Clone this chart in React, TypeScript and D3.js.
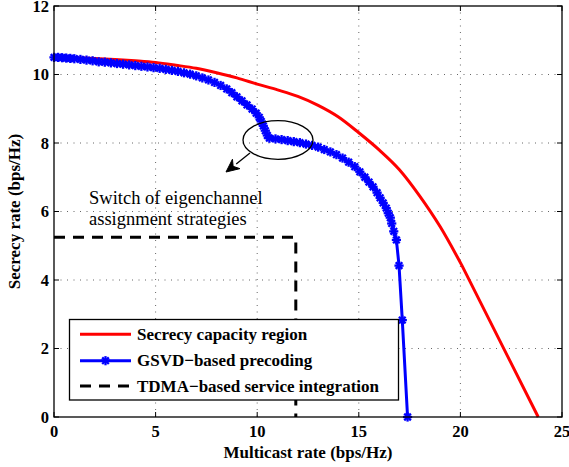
import React from "react";
import * as d3 from "d3";

const redX = [0, 1, 2, 3, 4, 5, 6, 7, 8, 9, 10, 11, 12, 13, 14, 15, 16, 17, 18, 19, 20.06, 23.83];
const redY = [10.5, 10.49, 10.47, 10.44, 10.4, 10.35, 10.27, 10.18, 10.05, 9.9, 9.72, 9.55, 9.36, 9.1, 8.76, 8.3, 7.8, 7.22, 6.45, 5.56, 4.44, 0];

const blueX = [0.0, 0.2, 0.4, 0.6, 0.8, 1.0, 1.3, 1.6, 1.9, 2.2, 2.5, 2.8, 3.1, 3.4, 3.7, 4.0, 4.3, 4.6, 4.9, 5.2, 5.5, 5.8, 6.1, 6.4, 6.7, 7.0, 7.3, 7.6, 7.9, 8.2, 8.5, 8.75, 9.0, 9.25, 9.5, 9.75, 9.95, 10.1, 10.2, 10.3, 10.4, 10.5, 10.6,
  10.9, 11.2, 11.5, 11.8, 12.1, 12.4, 12.7, 13.0, 13.3, 13.6, 13.9, 14.2, 14.5, 14.8, 15.05, 15.3, 15.5, 15.7, 15.9, 16.05, 16.2, 16.35, 16.45, 16.55, 16.62, 16.72, 16.85, 16.98, 17.14, 17.4];
const blueY = [10.5, 10.5, 10.49, 10.48, 10.47, 10.46, 10.44, 10.42, 10.4, 10.37, 10.36, 10.34, 10.32, 10.3, 10.28, 10.26, 10.24, 10.22, 10.2, 10.18, 10.15, 10.12, 10.09, 10.05, 10.01, 9.96, 9.9, 9.84, 9.77, 9.68, 9.58, 9.47, 9.35, 9.23, 9.11, 8.99, 8.87, 8.75, 8.63, 8.5, 8.36, 8.22, 8.14,
  8.12, 8.1, 8.07, 8.04, 8.01, 7.97, 7.93, 7.88, 7.81, 7.74, 7.66, 7.56, 7.44, 7.31, 7.16, 7.0, 6.86, 6.72, 6.55, 6.4, 6.25, 6.1, 5.95, 5.82, 5.65, 5.42, 5.17, 4.42, 2.83, 0];

const tdmaX = [0, 11.9, 11.9];
const tdmaY = [5.25, 5.25, 0];

const xTicks = [0, 5, 10, 15, 20, 25];
const yTicks = [0, 2, 4, 6, 8, 10, 12];

const legendLabels = ["Secrecy capacity region", "GSVD\u2212based precoding", "TDMA\u2212based service integration"];

const W = 569, H = 467;
const L = 54, R = 562, T = 6, B = 417;
const FONT = "Liberation Serif";

function Star({ x, y, s = 4.6, color = "#0000ff" }: { x: number; y: number; s?: number; color?: string }) {
  const d = s * 0.72;
  return (
    <g stroke={color} strokeWidth={2.3}>
      <line x1={x - s} y1={y} x2={x + s} y2={y} />
      <line x1={x} y1={y - s} x2={x} y2={y + s} />
      <line x1={x - d} y1={y - d} x2={x + d} y2={y + d} />
      <line x1={x - d} y1={y + d} x2={x + d} y2={y - d} />
    </g>
  );
}

export default function App() {
  const x = d3.scaleLinear().domain([0, 25]).range([L, R]);
  const y = d3.scaleLinear().domain([0, 12]).range([B, T]);

  const redPts: [number, number][] = redX.map((v, i) => [x(v), y(redY[i])]);
  const bluePts: [number, number][] = blueX.map((v, i) => [x(v), y(blueY[i])]);
  const tdmaPts: [number, number][] = tdmaX.map((v, i) => [x(v), y(tdmaY[i])]);

  const redPath = d3.line().curve(d3.curveMonotoneX)(redPts.slice(0, 21)) + "L" + redPts[21][0] + "," + redPts[21][1];
  const bluePath = d3.line()(bluePts) as string;
  const tdmaPath = d3.line()(tdmaPts) as string;

  const ex = 278, ey = 140, erx = 35, ery = 19.3;
  const ax0 = 250, ay0 = 153, ax1 = 226, ay1 = 172;
  const ang = Math.atan2(ay1 - ay0, ax1 - ax0);
  const hl = 13, hw = 6;
  const bx = ax1 - hl * Math.cos(ang), by = ay1 - hl * Math.sin(ang);
  const nx = -Math.sin(ang), ny = Math.cos(ang);
  const notchX = ax1 - hl * 0.7 * Math.cos(ang), notchY = ay1 - hl * 0.7 * Math.sin(ang);
  const head = `M${ax1},${ay1}L${bx + nx * hw},${by + ny * hw}L${notchX},${notchY}L${bx - nx * hw},${by - ny * hw}Z`;

  const legL = 69.5, legT = 319.5, legW = 329, legH = 80.5;
  const rowY = [334.3, 360.7, 386];

  return (
    <svg width={W} height={H} style={{ position: "absolute", left: 0, top: 0, background: "#fff" }}>
      <rect x={0} y={0} width={W} height={H} fill="#fff" />
      <g stroke="#666" strokeWidth={1} strokeDasharray="1 5.5">
        {xTicks.slice(1, -1).map((t) => (
          <line key={"gx" + t} x1={x(t)} x2={x(t)} y1={T} y2={B} />
        ))}
        {yTicks.slice(1, -1).map((t) => (
          <line key={"gy" + t} x1={L} x2={R} y1={y(t)} y2={y(t)} />
        ))}
      </g>
      <g stroke="#000" strokeWidth={1}>
        {xTicks.map((t) => (
          <g key={"tx" + t}>
            <line x1={x(t)} x2={x(t)} y1={B} y2={B - 5} />
            <line x1={x(t)} x2={x(t)} y1={T} y2={T + 5} />
          </g>
        ))}
        {yTicks.map((t) => (
          <g key={"ty" + t}>
            <line x1={L} x2={L + 5} y1={y(t)} y2={y(t)} />
            <line x1={R} x2={R - 5} y1={y(t)} y2={y(t)} />
          </g>
        ))}
      </g>
      <path d={tdmaPath} fill="none" stroke="#000" strokeWidth={3} strokeDasharray="11 8" />
      <path d={redPath} fill="none" stroke="#ff0000" strokeWidth={3} />
      <path d={bluePath} fill="none" stroke="#0000ff" strokeWidth={3} />
      {bluePts.map((p, i) => (
        <Star key={"m" + i} x={p[0]} y={p[1]} />
      ))}
      <rect x={L} y={T} width={R - L} height={B - T} fill="none" stroke="#000" strokeWidth={1.3} />
      <g fontSize={16.5} fontWeight="bold" fill="#000" style={{ fontFamily: FONT }}>
        {xTicks.map((t) => (
          <text key={"lx" + t} x={x(t)} y={437} textAnchor="middle">{t}</text>
        ))}
        {yTicks.map((t) => (
          <text key={"ly" + t} x={49} y={y(t) + 5.7} textAnchor="end">{t}</text>
        ))}
      </g>
      <g fontWeight="bold" fontSize={17} style={{ fontFamily: FONT }}>
        <text x={(L + R) / 2} y={458} textAnchor="middle">Multicast rate (bps/Hz)</text>
        <text transform={`translate(20,${(T + B) / 2}) rotate(-90)`} textAnchor="middle">Secrecy rate (bps/Hz)</text>
      </g>
      <ellipse cx={ex} cy={ey} rx={erx} ry={ery} fill="none" stroke="#000" strokeWidth={1.3} />
      <line x1={ax0} y1={ay0} x2={bx} y2={by} stroke="#000" strokeWidth={1.3} />
      <path d={head} fill="#000" stroke="#000" strokeWidth={1} />
      <g fontSize={18.5} style={{ fontFamily: FONT }}>
        <text x={89} y={204}>Switch of eigenchannel</text>
        <text x={89} y={225}>assignment strategies</text>
      </g>
      <rect x={legL} y={legT} width={legW} height={legH} fill="#fff" stroke="#000" strokeWidth={1.3} />
      <line x1={80} x2={131} y1={rowY[0]} y2={rowY[0]} stroke="#ff0000" strokeWidth={3} />
      <line x1={80} x2={131} y1={rowY[1]} y2={rowY[1]} stroke="#0000ff" strokeWidth={3} />
      <Star x={105.5} y={rowY[1]} />
      <line x1={80} x2={131} y1={rowY[2]} y2={rowY[2]} stroke="#000" strokeWidth={3} strokeDasharray="11 8" />
      <g fontSize={17} fontWeight="bold" style={{ fontFamily: FONT }}>
        {legendLabels.map((s, i) => (
          <text key={s} x={137} y={rowY[i] + 5.5}>{s}</text>
        ))}
      </g>
    </svg>
  );
}
